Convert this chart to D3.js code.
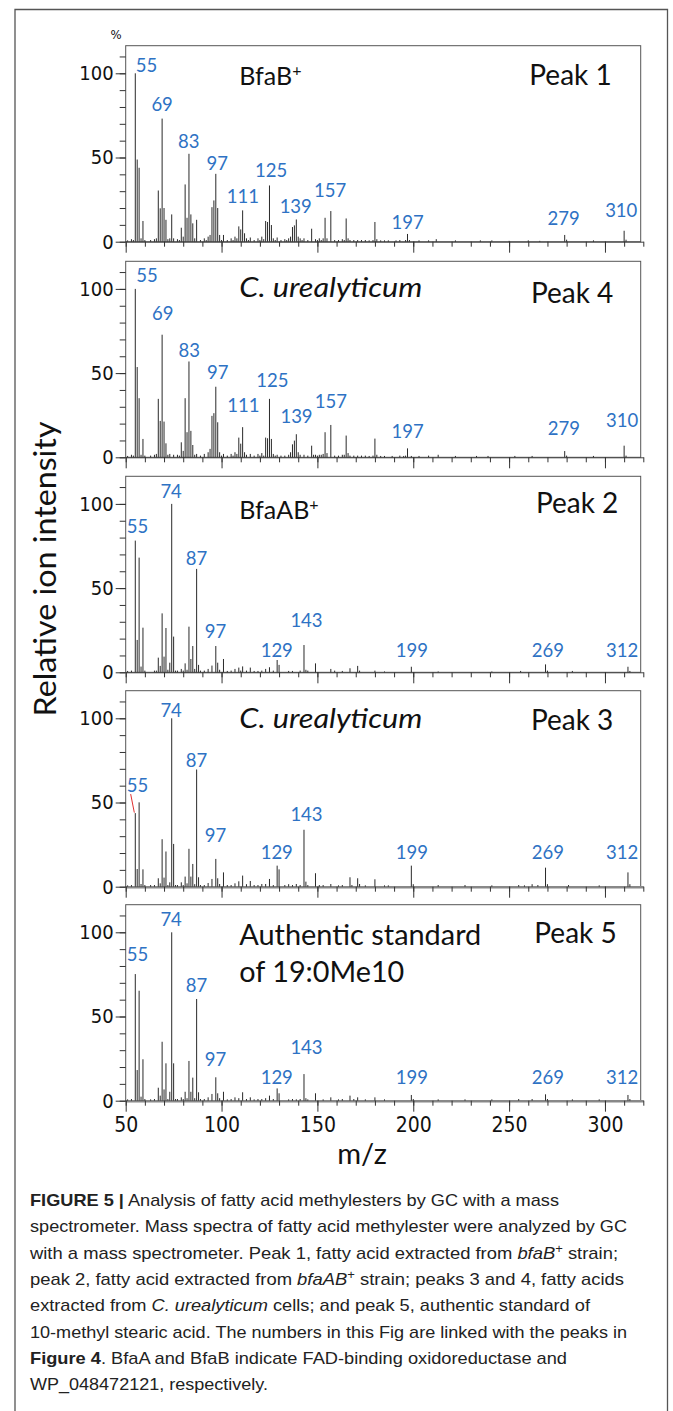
<!DOCTYPE html>
<html>
<head>
<meta charset="utf-8">
<script src="https://cdn.jsdelivr.net/npm/d3@7"></script>
<style>
body { margin: 0; background: #fff; }
.ann { font-family: Lato, "Noto Sans", sans-serif; }
.num { font-family: "Liberation Sans Narrow", "DejaVu Sans Condensed", sans-serif; }
.cap { font-family: "Liberation Sans", Arial, sans-serif; }
</style>
</head>
<body>
<svg id="chart" width="673" height="1411"></svg>
<script>
// m/z, relative intensity (%)
const peak1 = [[51,0.8],[53,1.5],[54,1],[55,100],[56,48.8],[57,43.9],[58,2],[59,12.3],[60,1],[63,1],[65,1.5],[66,2],[67,30.4],[68,19.8],[69,73.1],[70,20],[71,13],[72,1.5],[73,2],[74,16.2],[75,2],[77,1.5],[78,1],[79,8.3],[80,3],[81,34],[82,14.2],[83,52.2],[84,16.2],[85,10.9],[86,2],[87,13],[89,1],[91,2],[92,1],[93,3],[94,4],[95,20.5],[96,24.5],[97,40.3],[98,20],[99,4],[100,1],[101,4],[103,1],[105,2],[106,1],[107,3],[108,2],[109,9.1],[110,7.3],[111,18.6],[112,5],[113,2],[114,1],[115,2.5],[117,1],[119,2],[120,1],[121,3],[122,1.5],[123,12.3],[124,11.7],[125,33.4],[126,9.9],[127,2],[128,1],[129,2.5],[131,1],[133,1.5],[134,1],[135,2],[136,3],[137,8.7],[138,9.7],[139,13.2],[140,3],[141,2],[142,1],[143,2],[145,1],[147,7.7],[149,1.5],[150,1],[151,2],[152,1],[153,2],[154,14.2],[155,2],[157,18.2],[159,1],[161,1],[163,1.5],[164,1],[165,13.8],[166,2],[167,1],[169,1],[171,1],[173,1],[175,1],[177,0.8],[179,1],[180,11.7],[181,1.5],[183,0.8],[185,0.8],[187,0.8],[191,0.8],[193,1],[196,1],[197,4.6],[198,1],[203,0.8],[208,0.8],[212,1.5],[222,0.8],[235,0.8],[241,0.8],[250,0.5],[260,0.8],[266,0.5],[279,4],[280,1.2],[294,0.8],[310,6.5],[311,1.2]];
const peak4 = [[51,0.8],[53,1.5],[54,1],[55,100],[56,53.6],[57,35.1],[58,1.5],[59,10.9],[60,1],[63,1],[65,1.5],[66,2],[67,34.7],[68,21.6],[69,72.8],[70,21.2],[71,8.3],[72,1.5],[73,2],[75,1.5],[77,1.5],[78,1],[79,8.9],[80,3.8],[81,35.1],[82,14.9],[83,56.9],[84,15.7],[85,7.3],[86,1.5],[87,2],[89,1],[91,2],[93,3],[94,5],[95,24.6],[96,26.2],[97,41.9],[98,20.8],[99,3],[100,1],[101,2],[103,1],[105,2],[106,1],[107,3],[108,2],[109,11.7],[110,8.1],[111,17.9],[112,3],[113,1.5],[115,2],[117,1],[119,2],[120,1],[121,2.5],[122,1],[123,11.7],[124,11.3],[125,34.7],[126,10.9],[127,2],[128,1],[129,1.5],[131,1],[133,1],[135,1.5],[136,3],[137,7.7],[138,9.9],[139,13.7],[140,3],[141,1.5],[143,1.5],[145,1],[147,6.9],[148,1.5],[149,1.5],[150,1],[151,1.5],[152,1.5],[153,2],[154,14.9],[155,2.5],[157,19.2],[159,1],[161,1],[163,1.5],[164,1.5],[165,12.9],[166,2.5],[167,1],[169,1],[171,1],[173,1],[175,1],[177,0.8],[179,1],[180,11.1],[181,1.5],[183,0.8],[185,0.8],[189,0.8],[193,1],[195,0.8],[196,1],[197,5.3],[199,0.8],[203,0.8],[208,1],[213,1.5],[222,0.8],[233,0.8],[239,0.8],[253,0.8],[262,0.8],[279,3.7],[280,1],[294,0.8],[310,6.9],[311,1]];
const peak2 = [[51,0.8],[53,1],[55,78.2],[56,19.2],[57,68.1],[58,3.4],[59,26.5],[60,1],[65,1],[66,1],[67,8.7],[68,3.8],[69,35],[70,9.3],[71,26.3],[72,1.5],[73,5.7],[74,100],[75,21.2],[76,1],[77,1],[79,2],[80,1],[81,5.3],[82,1.5],[83,27.1],[84,7.9],[85,15.6],[86,2],[87,61.4],[88,4.4],[89,1],[91,1],[93,2],[95,4],[97,15.6],[98,5.7],[99,1.5],[101,7.9],[103,0.8],[105,1],[107,2],[109,2.8],[110,1],[111,3.5],[113,1],[115,2.8],[117,0.8],[119,0.8],[121,1],[123,2],[125,3],[127,1],[129,7.3],[130,4.4],[135,0.8],[137,0.8],[141,1],[143,16.2],[144,1.5],[145,1],[149,5.3],[157,2],[159,1],[163,0.8],[167,2.4],[171,3.8],[172,1],[180,1],[185,0.5],[199,3.3],[213,0.5],[241,0.5],[256,0.8],[269,4.7],[270,1],[283,0.8],[312,3.3],[313,0.8]];
const peak3 = [[51,0.8],[53,1],[55,43.7],[56,10.5],[57,50.1],[58,1.6],[59,10.3],[60,1],[63,1],[65,1],[67,5],[68,2],[69,28.2],[70,5.4],[71,20.9],[72,1],[73,2.6],[74,100],[75,25.4],[76,1],[77,1],[79,2.6],[80,1],[81,6],[82,2],[83,22.5],[84,6],[85,13.5],[86,1.5],[87,69.6],[88,5.6],[89,1],[91,1],[93,2.2],[95,4.6],[97,16.5],[98,5],[99,1.6],[101,8.5],[103,1],[105,1],[107,2],[109,3.2],[111,6.6],[113,1.5],[115,3.4],[117,1],[119,1],[121,1.6],[123,1.6],[125,4.6],[127,1],[129,12.5],[130,10.3],[133,1],[135,1.5],[137,1],[139,1.6],[141,1],[143,33.8],[144,3],[145,1],[149,8],[151,1],[153,1],[157,1.6],[161,0.8],[163,1],[167,5.6],[168,1],[171,5],[172,1.6],[175,0.8],[180,4.4],[185,0.8],[187,0.8],[199,12.5],[200,1.5],[213,1],[227,1],[241,0.8],[255,1],[258,0.8],[262,1.5],[265,1],[269,11.3],[270,1.5],[281,1],[297,0.8],[312,8.5],[313,1.5]];
const peak5 = [[51,0.8],[53,1],[55,75.2],[56,18.2],[57,65.3],[58,2.4],[59,24.6],[60,1],[63,0.8],[65,1],[67,7.7],[68,3],[69,35],[70,6.7],[71,22.2],[72,1],[73,5.3],[74,100],[75,22.2],[76,1],[77,1],[79,2],[80,1],[81,5.3],[82,1.5],[83,23.6],[84,5.3],[85,13.7],[86,1.5],[87,60.4],[88,5],[89,1],[91,1],[93,2],[95,4],[97,13.9],[98,4.4],[99,1.5],[101,5.3],[103,0.8],[105,1],[107,2],[109,1.5],[111,5],[113,1],[115,2],[117,0.8],[119,1],[121,1],[123,1.5],[125,3],[127,1],[129,7.3],[130,4.4],[135,0.8],[137,1],[139,0.8],[141,1],[143,15.8],[144,1.5],[145,0.8],[149,4.4],[153,0.8],[157,2],[161,0.8],[163,1],[167,3],[169,1],[171,2],[175,0.8],[180,2],[185,0.8],[199,3.4],[200,1],[213,0.8],[227,0.8],[241,0.8],[255,1],[262,1],[269,3.8],[270,1],[283,0.8],[297,0.8],[312,3.4],[313,1]];

// [label, centre m/z, level %]
const labels1 = [["55",60.8,101],["69",69,77.8],["83",82.9,55.8],["97",97.7,42.6],["111",111.1,23.2],["125",125.9,38.6],["139",138.7,17.2],["157",156.6,26.7],["197",197.1,7.4],["279",278.4,9.9],["310",308.5,14.8]];
const labels4 = [["55",61.1,104.3],["69",69.3,81.5],["83",83.2,59.7],["97",98,46.5],["111",111.4,27.1],["125",126.5,41.9],["139",139.1,20.5],["157",157,29.5],["197",197.1,11.3],["279",278.6,13.2],["310",309,18.2]];
const labels2 = [["55",56.2,82.5],["74",73.7,103.3],["87",86.9,63.7],["97",96.8,20.2],["129",128.8,9.3],["143",144.3,27.1],["199",199.3,9.3],["269",270.2,9.3],["312",309,9.3]];
const labels3 = [["55",56.2,56.4],["74",73.7,101],["87",86.9,71.3],["97",96.8,26.7],["129",128.8,16.4],["143",144.3,39],["199",199.3,16.4],["269",270.2,16.4],["312",309,16.4]];
const labels5 = [["55",56.2,83],["74",73.7,103.7],["87",86.9,64.7],["97",96.8,20.8],["129",128.8,9.7],["143",144.3,27.7],["199",199.3,9.7],["269",270.2,9.7],["312",309,9.7]];

const sampleNames = ["BfaB", "C. urealyticum", "BfaAB", "C. urealyticum", "Authentic standard"];
const peakNames = ["Peak 1", "Peak 4", "Peak 2", "Peak 3", "Peak 5"];
const xTicks = [50, 100, 150, 200, 250, 300];
const yTicks = [0, 50, 100];

const panels = [
  {data: peak1, labels: labels1},
  {data: peak4, labels: labels4},
  {data: peak2, labels: labels2},
  {data: peak3, labels: labels3, leader: [[52.6,55],[54.5,44]]},
  {data: peak5, labels: labels5}
];

// layout
const plotLeft = 125.7, tickEnd = 643.3, boxRight = 640.7;
const panelBase = [241.7, 457.3, 672.3, 886.7, 1100.7];
const h100 = 168.4, boxH = 196;
const titleY = [85, 296.7, 519, 728, 945];
const titleW = [null, 183, null, 183, 242];
const peakX = [611.7, 613.3, 618.3, 613.3, 616.7];
const peakY = [85, 302.7, 512.7, 730, 942.7];
const blue = "#2e72c4";

const svg = d3.select("#chart");

const x = d3.scaleLinear().domain([50, 320]).range([plotLeft, tickEnd]);

// outer frame
svg.append("path")
  .attr("d", `M15,1411 V9.5 H667.5 V1411`)
  .attr("fill", "none").attr("stroke", "#555").attr("stroke-width", 1.3);

panels.forEach((p, i) => {
  const base = panelBase[i];
  const y = d3.scaleLinear().domain([0, 100]).range([base, base - h100]);
  const g = svg.append("g");

  g.append("rect")
    .attr("x", plotLeft).attr("y", base - boxH)
    .attr("width", boxRight - plotLeft).attr("height", boxH)
    .attr("fill", "none").attr("stroke", "#555").attr("stroke-width", 1);

  // y axis
  g.append("g").attr("transform", `translate(${plotLeft},0)`)
    .call(d3.axisLeft(y).tickValues(d3.range(0, 111, 10)).tickSize(6).tickFormat(""))
    .call(a => a.select(".domain").remove());
  g.append("g").attr("transform", `translate(${plotLeft},0)`)
    .call(d3.axisLeft(y).tickValues(yTicks).tickSize(10).tickPadding(2))
    .call(a => a.select(".domain").remove())
    .call(a => a.selectAll("text").attr("class", "num").attr("font-size", 20).attr("fill", "#111"));

  // x axis
  g.append("g").attr("transform", `translate(0,${base})`)
    .call(d3.axisBottom(x).tickValues(d3.range(50, 321, 10)).tickSize(5).tickSizeOuter(0).tickFormat(""))
    .call(a => a.select(".domain").attr("stroke", i >= 3 ? "#888" : "#444").attr("stroke-width", i >= 3 ? 2.5 : 1));
  const xa = g.append("g").attr("transform", `translate(0,${base})`)
    .call(d3.axisBottom(x).tickValues(xTicks).tickSize(11).tickPadding(5)
      .tickFormat(i === 4 ? d3.format("d") : ""))
    .call(a => a.select(".domain").remove());
  xa.selectAll("text").attr("class", "num").attr("font-size", 21).attr("fill", "#111");

  g.selectAll(".tick line").attr("stroke", "#333");

  // spectrum sticks
  g.append("g").selectAll("line").data(p.data).join("line")
    .attr("x1", d => x(d[0])).attr("x2", d => x(d[0]))
    .attr("y1", y(0)).attr("y2", d => y(d[1]))
    .attr("stroke", "#2a2a2a").attr("stroke-width", 1);

  // m/z labels
  g.append("g").selectAll("text").data(p.labels).join("text")
    .attr("class", "ann")
    .attr("x", d => x(d[1])).attr("y", d => y(d[2]))
    .attr("text-anchor", "middle").attr("font-size", 18.5).attr("fill", blue)
    .text(d => d[0]);

  if (p.leader) {
    g.append("path")
      .attr("d", d3.line().x(d => x(d[0])).y(d => y(d[1]))(p.leader))
      .attr("stroke", "#e03030").attr("stroke-width", 1).attr("fill", "none");
  }

  // sample name
  const t = g.append("text").attr("class", "ann")
    .attr("x", 239.3).attr("y", titleY[i]).attr("font-size", 25).attr("fill", "#111");
  if (i === 1 || i === 3) {
    t.attr("font-style", "italic").attr("font-size", 27).text(sampleNames[i])
      .attr("textLength", titleW[i]).attr("lengthAdjust", "spacingAndGlyphs");
  } else if (i === 4) {
    t.attr("font-size", 28).text(sampleNames[i])
      .attr("textLength", titleW[i]).attr("lengthAdjust", "spacingAndGlyphs");
    g.append("text").attr("class", "ann").attr("x", 239.3).attr("y", titleY[i] + 36.7)
      .attr("font-size", 28).attr("fill", "#111").text("of 19:0Me10")
      .attr("textLength", 165).attr("lengthAdjust", "spacingAndGlyphs");
  } else {
    t.text(sampleNames[i]);
    t.append("tspan").attr("font-size", 16).attr("dy", -9).text("+");
  }

  g.append("text").attr("class", "ann")
    .attr("x", peakX[i]).attr("y", peakY[i]).attr("text-anchor", "end")
    .attr("font-size", 28).attr("fill", "#111").text(peakNames[i]);
});

// % sign
svg.append("text").attr("class", "num").attr("x", 116).attr("y", 39)
  .attr("text-anchor", "middle").attr("font-size", 13).attr("fill", "#111").text("%");

// axis titles
svg.append("text").attr("class", "ann")
  .attr("transform", "translate(56,569) rotate(-90)")
  .attr("text-anchor", "middle").attr("font-size", 30).attr("fill", "#111")
  .attr("textLength", 295).attr("lengthAdjust", "spacingAndGlyphs")
  .text("Relative ion intensity");
svg.append("text").attr("class", "ann")
  .attr("x", 362).attr("y", 1164).attr("text-anchor", "middle")
  .attr("font-size", 29).attr("fill", "#111").text("m/z");

// caption
const caption = [
  [["FIGURE 5 |", "b"], [" Analysis of fatty acid methylesters by GC with a mass", ""]],
  [["spectrometer. Mass spectra of fatty acid methylester were analyzed by GC", ""]],
  [["with a mass spectrometer. Peak 1, fatty acid extracted from ", ""], ["bfaB", "i"], ["+", "s"], [" strain;", ""]],
  [["peak 2, fatty acid extracted from ", ""], ["bfaAB", "i"], ["+", "s"], [" strain; peaks 3 and 4, fatty acids", ""]],
  [["extracted from ", ""], ["C. urealyticum", "i"], [" cells; and peak 5, authentic standard of", ""]],
  [["10-methyl stearic acid. The numbers in this Fig are linked with the peaks in", ""]],
  [["Figure 4", "b"], [". BfaA and BfaB indicate FAD-binding oxidoreductase and", ""]],
  [["WP_048472121, respectively.", ""]]
];
const captionEnd = [559, 627, 618, 624, 590, 627, 567, 268];

caption.forEach((line, i) => {
  const t = svg.append("text").attr("class", "cap")
    .attr("x", 30).attr("y", 1206 + i * 26.3)
    .attr("font-size", 17).attr("fill", "#222")
    .attr("textLength", captionEnd[i] - 30).attr("lengthAdjust", "spacingAndGlyphs");
  let up = false;
  line.forEach(([s, st]) => {
    const ts = t.append("tspan").text(s);
    if (st === "b") ts.attr("font-weight", "bold");
    if (st === "i") ts.attr("font-style", "italic");
    if (st === "s") { ts.attr("font-size", 12).attr("dy", -6); up = true; }
    else if (up) { ts.attr("dy", 6); up = false; }
  });
});
</script>
</body>
</html>
